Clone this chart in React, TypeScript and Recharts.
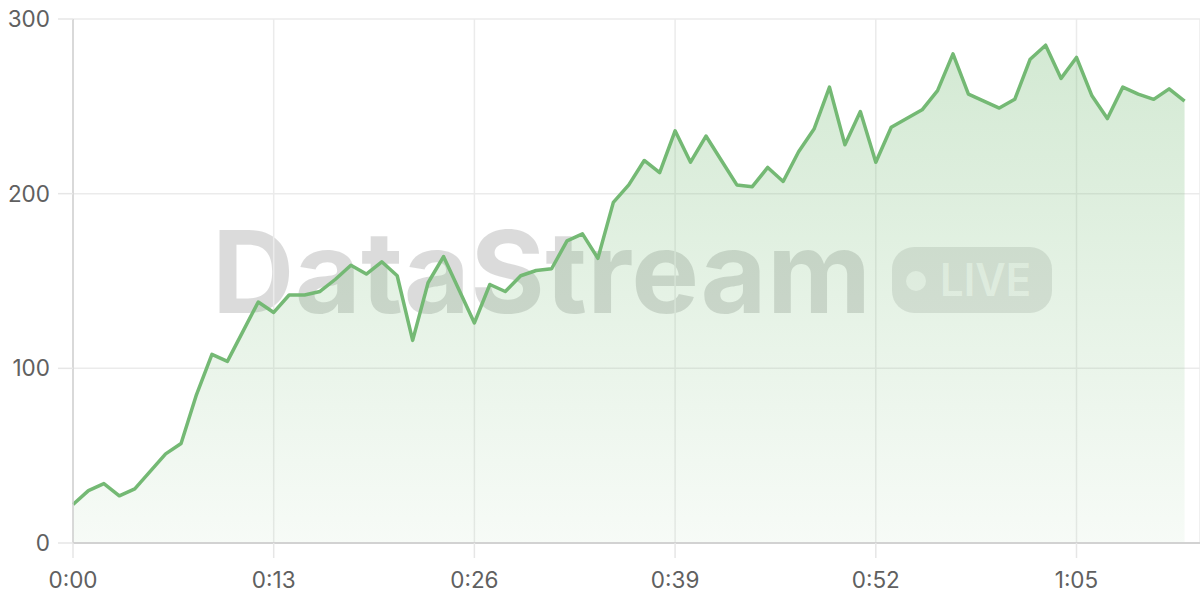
import React from "react";
import { AreaChart, Area, XAxis, YAxis, CartesianGrid } from "recharts";

const seconds = [
  0, 1, 2, 3, 4, 5, 6, 7, 8, 9, 10, 11, 12, 13, 14, 15, 16, 17, 18, 19, 20, 21, 22, 23, 24,
  25, 26, 27, 28, 29, 30, 31, 32, 33, 34, 35, 36, 37, 38, 39, 40, 41, 42, 43, 44, 45, 46, 47,
  48, 49, 50, 51, 52, 53, 54, 55, 56, 57, 58, 59, 60, 61, 62, 63, 64, 65, 66, 67, 68, 69, 70,
  71, 72,
];

const values = [
  22, 30, 34, 27, 31, 41, 51, 57, 85, 108, 104, 121, 138, 132, 142, 142, 144, 151, 159, 154,
  161, 153, 116, 149, 164, 145, 126, 148, 144, 153, 156, 157, 173, 177, 163, 195, 205, 219,
  212, 236, 218, 233, 219, 205, 204, 215, 207, 224, 237, 261, 228, 247, 218, 238, 243, 248,
  259, 280, 257, 253, 249, 254, 277, 285, 266, 278, 256, 243, 261, 257, 254, 260, 253,
];

const xTicks = [0, 13, 26, 39, 52, 65];
const xTickLabels = ["0:00", "0:13", "0:26", "0:39", "0:52", "1:05"];
const yTicks = [0, 100, 200, 300];

const data = seconds.map((t, i) => ({ t, v: values[i] }));

const FONT = "Inter, 'Noto Sans', sans-serif";

export default function App() {
  return (
    <div style={{ position: "absolute", left: 0, top: 0, width: 1200, height: 600, background: "#fff" }}>
      <svg
        width={1200}
        height={600}
        style={{ position: "absolute", left: 0, top: 0 }}
      >
        <text
          x={212}
          y={313}
          fontFamily={FONT}
          fontWeight={700}
          fontSize={114}
          fill="rgba(0,0,0,0.14)"
          textLength={659}
          lengthAdjust="spacing"
        >
          DataStream
        </text>
        <rect x={892} y={247} width={160} height={66} rx={22} fill="rgba(0,0,0,0.1)" />
        <circle cx={916} cy={281} r={10} fill="rgba(255,255,255,0.72)" />
        <text
          x={940}
          y={296}
          fontFamily={FONT}
          fontWeight={600}
          fontSize={45}
          fill="rgba(255,255,255,0.72)"
          textLength={91}
          lengthAdjust="spacingAndGlyphs"
        >
          LIVE
        </text>
      </svg>
      <div style={{ position: "absolute", left: 0, top: 0 }}>
        <AreaChart
          width={1200}
          height={600}
          data={data}
          margin={{ top: 19, right: 0, bottom: 0, left: 0 }}
        >
          <defs>
            <linearGradient id="fillGrad" x1="0" y1="0" x2="0" y2="1">
              <stop offset="0%" stopColor="#76bb76" stopOpacity={0.32} />
              <stop offset="100%" stopColor="#76bb76" stopOpacity={0.06} />
            </linearGradient>
          </defs>
          <CartesianGrid stroke="#ebebeb" strokeWidth={1.5} />
          <XAxis
            type="number"
            dataKey="t"
            domain={[0, 73]}
            ticks={xTicks}
            tickFormatter={(v: number) => xTickLabels[xTicks.indexOf(v)]}
            height={57}
            tickSize={15}
            tickMargin={14}
            axisLine={{ stroke: "#d2d2d2", strokeWidth: 2 }}
            tickLine={{ stroke: "#e6e6e6", strokeWidth: 1.5 }}
            tick={{ fill: "#606060", fontSize: 22.5, fontFamily: FONT }}
          />
          <YAxis
            domain={[0, 300]}
            ticks={yTicks}
            width={73}
            tickSize={15}
            tickMargin={8}
            axisLine={{ stroke: "#d2d2d2", strokeWidth: 1.5 }}
            tickLine={{ stroke: "#e6e6e6", strokeWidth: 1.5 }}
            tick={{ fill: "#606060", fontSize: 22.5, fontFamily: FONT }}
          />
          <Area
            type="linear"
            dataKey="v"
            stroke="#74b974"
            strokeWidth={3.5}
            strokeLinejoin="round"
            fill="url(#fillGrad)"
            fillOpacity={1}
            isAnimationActive={false}
            dot={false}
            activeDot={false}
          />
        </AreaChart>
      </div>
    </div>
  );
}
